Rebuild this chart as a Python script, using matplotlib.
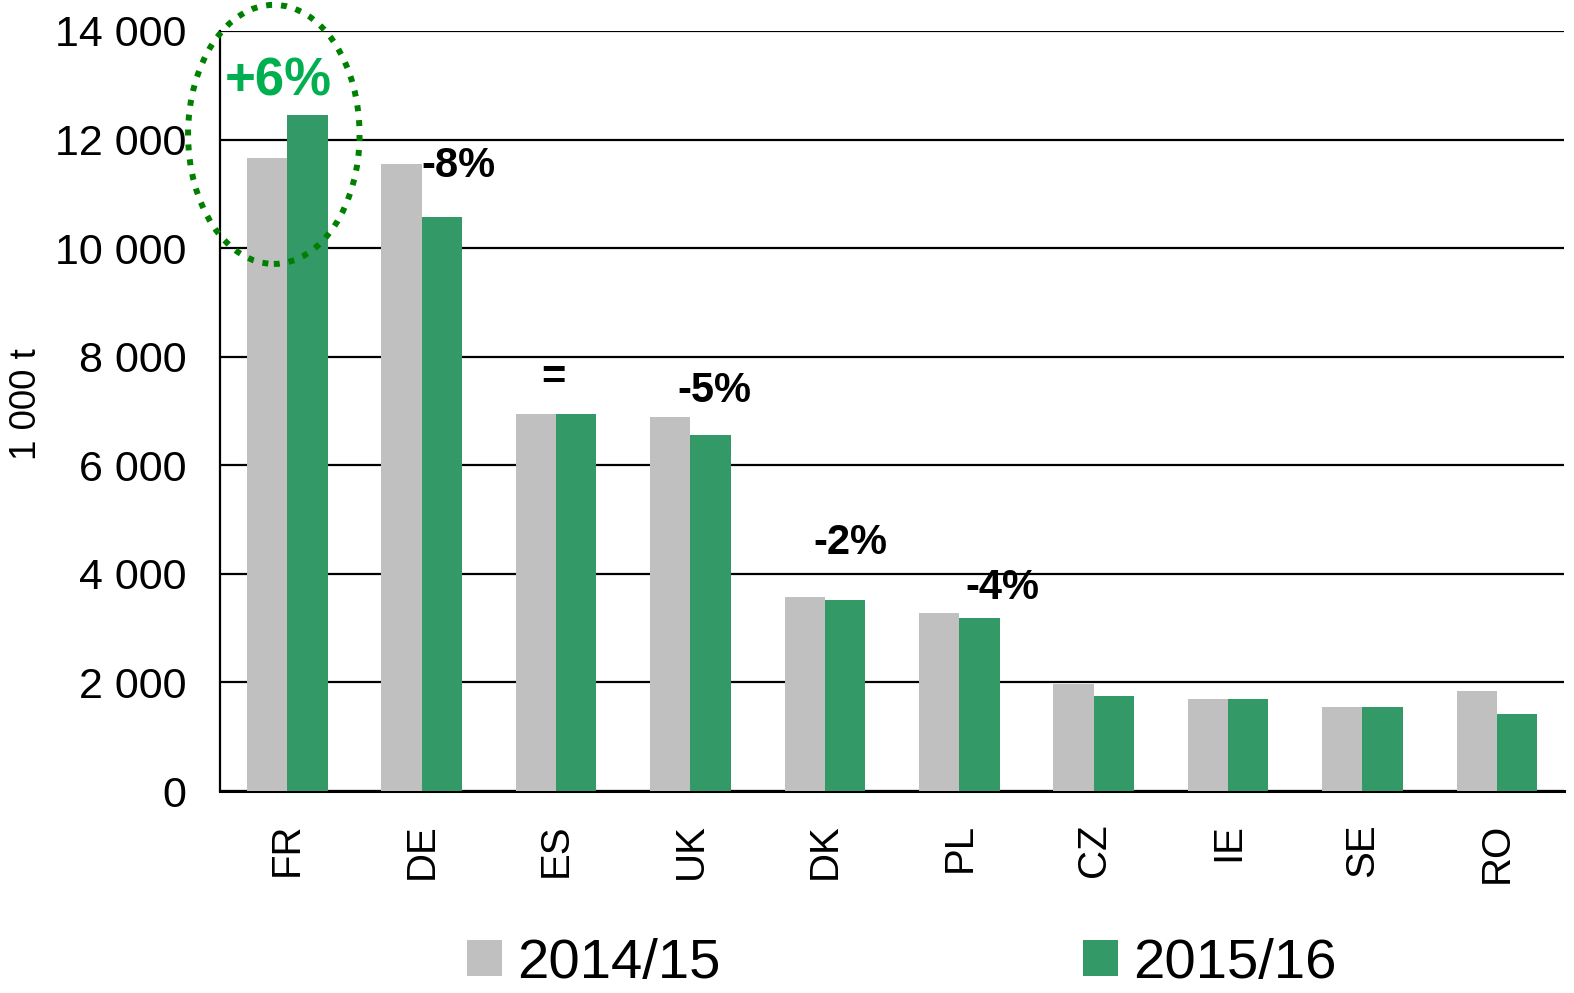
import matplotlib.pyplot as plt
from matplotlib.patches import Ellipse
from matplotlib.ticker import FuncFormatter
import numpy as np

plt.rcParams['font.family'] = ['Liberation Sans', 'DejaVu Sans']

countries = ["FR", "DE", "ES", "UK", "DK", "PL", "CZ", "IE", "SE", "RO"]
y2014 = [11667, 11556, 6953, 6898, 3569, 3274, 1970, 1698, 1549, 1846]
y2015 = [12444, 10576, 6953, 6551, 3514, 3182, 1753, 1698, 1549, 1420]
series_names = ["2014/15", "2015/16"]
changes = ["+6%", "-8%", "=", "-5%", "-2%", "-4%"]

gray = "#C0C0C0"
green = "#339966"

fig = plt.figure(figsize=(15.74, 9.93), dpi=100)
ax = fig.add_axes([0.1398, 0.2034, 0.8539, 0.7654])

x = np.arange(len(countries))
w = 0.3
b1 = ax.bar(x - w / 2, y2014, w, color=gray, label=series_names[0], zorder=3)
b2 = ax.bar(x + w / 2, y2015, w, color=green, label=series_names[1], zorder=3)

ax.set_xlim(-0.5, 9.5)
ax.set_ylim(0, 14000)
ax.set_yticks(range(0, 14001, 2000))
ax.yaxis.set_major_formatter(FuncFormatter(lambda v, p: f"{int(v):,}".replace(",", " ")))
ax.set_xticks(x)
ax.set_xticklabels(countries, rotation=90)
ax.tick_params(axis="y", labelsize=31, length=0, pad=24)
ax.tick_params(axis="x", labelsize=29, length=0, pad=23)
ax.grid(axis="y", color="black", linewidth=1.6, zorder=0)
for s in ["top", "right"]:
    ax.spines[s].set_visible(False)
ax.spines["left"].set_linewidth(1.6)
ax.spines["bottom"].set_linewidth(2.2)
fig.text(27 / 1574, 1 - 404 / 993, "1 000 t", fontsize=26.5, rotation=90,
         ha="center", va="center")

# change labels
label_pos = [(-0.07, 13076), (1.276, 11522), (1.98, 7601), (3.18, 7361), (4.19, 4568), (5.32, 3736)]
for i, (txt, (px, py)) in enumerate(zip(changes, label_pos)):
    if i == 0:
        ax.text(px, py, txt, fontsize=38, fontweight="bold", color="#00B050",
                ha="center", va="center", zorder=5)
    else:
        ax.text(px, py, txt, fontsize=30, fontweight="bold", color="black",
                ha="center", va="center", zorder=5)

ell = Ellipse((-0.10, 12095), 1.276, 4772, fill=False, edgecolor="#008000",
              linewidth=4.3, linestyle=(0, (1, 1.5)), clip_on=False, zorder=6)
ax.add_patch(ell)

fig.legend(handles=[b1, b2], labels=series_names, loc="center",
           bbox_to_anchor=(902 / 1574, 1 - 964 / 993), ncol=2, frameon=False,
           fontsize=40.5, handlelength=0.62, handleheight=0.62,
           handletextpad=0.27, columnspacing=6.45)

fig.savefig("out.png", dpi=100)
